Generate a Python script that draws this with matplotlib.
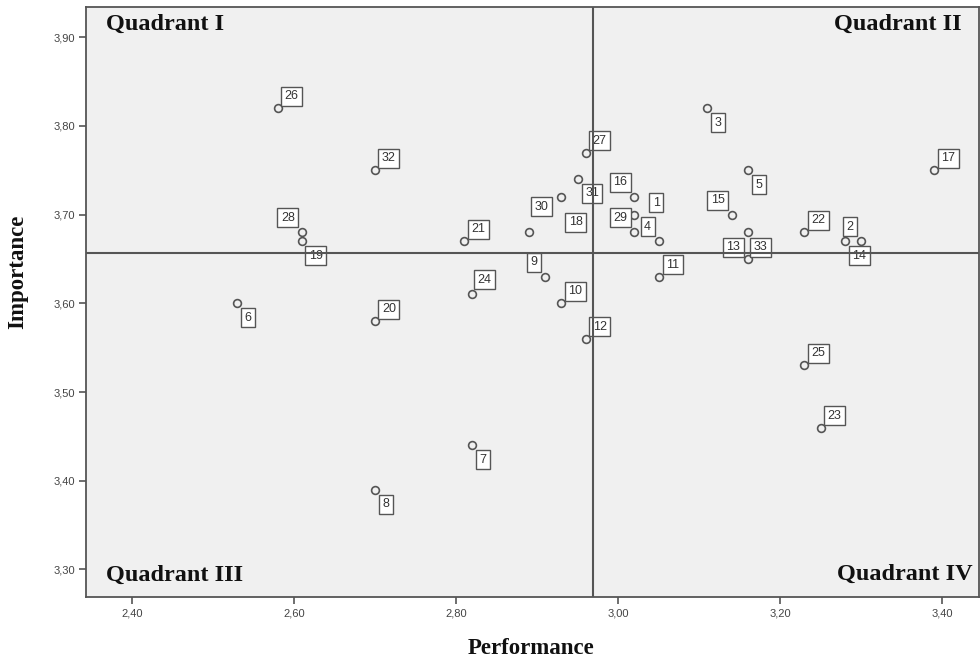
import numpy as np
import matplotlib
matplotlib.use("Agg")
import matplotlib.pyplot as plt
from matplotlib.ticker import FixedLocator, FuncFormatter

# item numbers with their mean performance / importance scores
item_ids = [1, 2, 3, 4, 5, 6, 7, 8, 9, 10, 11, 12, 13, 14, 15, 16, 17,
            18, 19, 20, 21, 22, 23, 24, 25, 26, 27, 28, 29, 30, 31, 32, 33]
performance = [3.02, 3.30, 3.11, 3.05, 3.16, 2.53, 2.82, 2.70, 2.91, 2.93, 3.05,
               2.96, 3.16, 3.28, 3.14, 3.02, 3.39, 2.93, 2.61, 2.70, 2.81, 3.23,
               3.25, 2.82, 3.23, 2.58, 2.96, 2.61, 3.02, 2.89, 2.95, 2.70, 3.16]
importance = [3.70, 3.67, 3.82, 3.67, 3.75, 3.60, 3.44, 3.39, 3.63, 3.60, 3.63,
              3.56, 3.68, 3.67, 3.70, 3.72, 3.75, 3.72, 3.67, 3.58, 3.67, 3.68,
              3.46, 3.61, 3.53, 3.82, 3.77, 3.68, 3.68, 3.68, 3.74, 3.75, 3.65]

x_ticks = [2.40, 2.60, 2.80, 3.00, 3.20, 3.40]
y_ticks = [3.30, 3.40, 3.50, 3.60, 3.70, 3.80, 3.90]
quadrants = ["Quadrant I", "Quadrant II", "Quadrant III", "Quadrant IV"]

# label box offsets in pixels (dx, dy downwards) like SPSS placed them
UR, DR, UL = (14, -12), (11, 14.5), (-14, -14.5)
label_offsets = {1: (22, -12), 2: (-11, -14.5), 3: DR, 4: (-11, -14.5), 5: DR,
                 6: DR, 7: DR, 8: DR, 9: (-11, -14.5), 10: UR, 11: UR, 12: UR,
                 13: (-14.5, 15), 14: (14.5, 14.5), 15: UL, 16: UL, 17: UR,
                 18: (14.5, 25.5), 19: (14, 14.5), 20: UR, 21: UR, 22: UR,
                 23: UR, 24: (12.5, -14.5), 25: UR, 26: UR, 27: UR, 28: UL,
                 29: UL, 30: (12.5, -25.5), 31: (14.5, 14), 32: UR, 33: (13, -11.5)}

W, H = 980, 661
fig = plt.figure(figsize=(W / 100, H / 100), dpi=100)
ax = fig.add_axes([86 / W, 1 - 597 / H, (979 - 86) / W, (597 - 7) / H])
ax.set_facecolor("#f0f0f0")
frame_col = "#555555"

ax.plot(performance, importance, linestyle="none", marker="o", ms=5.6,
        mfc="none", mec=frame_col, mew=1.2, zorder=3)

for i, x, y in zip(item_ids, performance, importance):
    dx, dy = label_offsets[i]
    ax.annotate(str(i), (x, y), xytext=(dx * 0.72, -dy * 0.72),
                textcoords="offset points", ha="center", va="center",
                fontsize=9, family="Liberation Sans", color="#333333",
                bbox=dict(boxstyle="square,pad=0.28", fc="white",
                          ec=frame_col, lw=1.0), zorder=4)

# reference lines at the means
ax.axvline(np.mean(performance), color=frame_col, lw=1.5, zorder=5)
ax.axhline(np.mean(importance), color=frame_col, lw=1.5, zorder=5)

ax.set_xlim(2.3436, 3.4453)
ax.set_ylim(3.269, 3.934)
ax.xaxis.set_major_locator(FixedLocator(x_ticks))
ax.yaxis.set_major_locator(FixedLocator(y_ticks))
fmt = FuncFormatter(lambda v, p: f"{v:.2f}".replace(".", ","))
ax.xaxis.set_major_formatter(fmt)
ax.yaxis.set_major_formatter(fmt)
ax.tick_params(length=5, width=1.2, color=frame_col, labelsize=8,
               labelcolor="#444444", pad=3)
for lab in ax.get_xticklabels() + ax.get_yticklabels():
    lab.set_family("Liberation Sans")
for sp in ax.spines.values():
    sp.set_color(frame_col)
    sp.set_linewidth(1.3)

qfont = dict(family="Liberation Serif", weight="bold", fontsize=17.5,
             color="#111111", transform=ax.transAxes, va="baseline")
ax.text(0.0224, 0.961, quadrants[0], ha="left", **qfont)
ax.text(0.980, 0.961, quadrants[1], ha="right", **qfont)
ax.text(0.0224, 0.027, quadrants[2], ha="left", **qfont)
ax.text(0.993, 0.029, quadrants[3], ha="right", **qfont)

fig.text(531 / W, 1 - 648 / H, "Performance", ha="center", va="center",
         family="Liberation Serif", weight="bold", fontsize=16.5, color="#111111")
fig.text(18 / W, 1 - 272 / H, "Importance", ha="center", va="center",
         rotation=90, family="Liberation Serif", weight="bold", fontsize=16.5,
         color="#111111")

fig.savefig("out.png", dpi=100)
